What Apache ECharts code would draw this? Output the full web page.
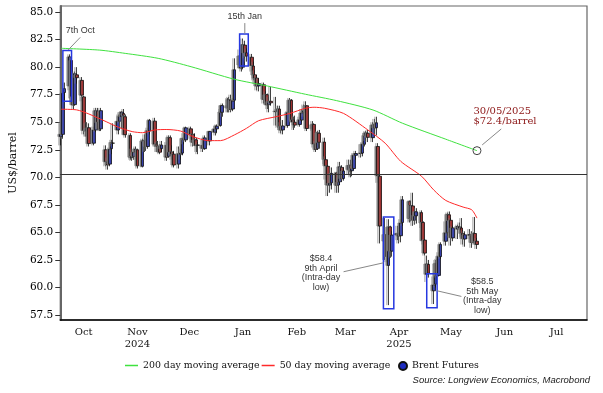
<!DOCTYPE html>
<html><head><meta charset="utf-8">
<script src="https://cdn.jsdelivr.net/npm/echarts@6/dist/echarts.min.js"></script>
<style>html,body{margin:0;padding:0;background:#fff}#c{width:603px;height:393px}</style>
</head><body><div id="c"></div>
<script>
// ---- axis definitions ----
const axisStartUTC = [2024, 9, 2];   // 2 Oct 2024
const axisEndUTC = [2025, 7, 1];     // 1 Aug 2025
const monthNames = ['Jan','Feb','Mar','Apr','May','Jun','Jul','Aug','Sep','Oct','Nov','Dec'];
const yearLabels = {'2024-11': '2024', '2025-04': '2025'};
const yTicks = [57.5, 60, 62.5, 65, 67.5, 70, 72.5, 75, 77.5, 80, 82.5, 85];
const yRange = [57.05, 85.55];
const refLine = 70.3;

// ---- Brent futures, rows: [day, open, close, low, high] ----
const brentOct2024 = [
[2,73.7,73.90,72.9,75.0],[3,73.9,77.62,73.5,78.0],[4,77.7,78.05,77.0,78.6],[7,78.3,80.93,77.9,81.16],
[8,80.6,77.18,76.8,80.9],[9,77.3,76.58,76.2,77.6],[10,76.6,79.40,76.5,79.6],[11,79.3,79.04,78.5,80.0],
[14,78.8,77.46,76.9,79.1],[15,77.3,74.25,73.9,77.4],[16,74.3,74.22,73.7,74.9],[17,74.2,74.45,73.7,75.0],
[18,74.5,73.06,72.8,74.9],[21,73.1,74.29,72.9,74.6],[22,74.3,76.04,74.1,76.3],[23,76.0,74.96,74.5,76.3],
[24,75.0,74.38,74.2,75.6],[25,74.4,76.05,74.2,76.3],[28,72.5,71.42,71.0,72.9],[29,71.4,71.12,70.7,71.8],
[30,71.2,72.55,71.0,72.7],[31,72.6,73.16,72.1,73.4]];
const brentNov2024 = [
[1,73.1,73.10,72.8,74.9],[4,74.3,75.08,73.9,75.7],[5,75.1,75.53,74.9,75.9],[6,75.5,75.92,74.4,76.0],
[7,75.8,75.63,75.0,76.2],[8,75.5,73.87,73.6,75.7],[11,73.8,71.83,71.6,74.0],[12,71.8,71.89,71.5,72.6],
[13,71.9,72.28,71.6,72.6],[14,72.3,72.56,71.6,72.8],[15,72.5,71.04,70.8,72.6],[18,71.0,73.30,70.9,73.5],
[19,73.3,73.31,72.3,73.9],[20,73.3,72.81,72.4,73.5],[21,72.8,74.23,72.6,74.5],[22,74.2,75.17,73.9,75.3],
[25,75.1,73.01,72.8,75.4],[26,73.0,72.81,72.3,73.2],[27,72.8,72.83,72.3,73.3],[28,72.8,72.28,72.1,73.0],
[29,72.6,72.94,72.3,73.3]];
const brentDec2024 = [
[2,72.9,71.83,71.5,73.2],[3,71.9,73.62,71.8,73.8],[4,73.6,72.31,71.9,73.8],[5,72.3,72.09,71.6,72.9],
[6,72.1,71.12,70.9,72.4],[9,71.2,72.14,70.8,72.8],[10,72.1,72.19,71.6,72.6],[11,72.2,73.52,72.0,73.6],
[12,73.5,73.41,73.0,74.0],[13,73.4,74.49,73.2,74.6],[16,74.4,73.91,73.5,74.6],[17,73.9,73.19,72.8,74.0],
[18,73.2,73.39,72.9,74.0],[19,73.4,72.88,72.3,73.6],[20,72.9,72.94,72.1,73.2],[23,72.9,72.63,72.3,73.4],
[24,72.6,73.58,72.5,73.8],[27,73.3,74.17,72.9,74.2],[30,74.1,74.39,73.8,74.7],[31,74.4,74.64,74.0,74.8]];
const brentJan2025 = [
[2,74.7,75.93,74.6,76.2],[3,75.9,76.51,75.5,76.7],[6,76.5,76.30,75.9,77.2],[7,76.3,77.05,75.9,77.3],
[8,77.0,76.16,75.9,77.5],[9,76.2,76.92,76.0,77.2],[10,77.0,79.76,76.9,80.8],[13,80.2,81.01,79.9,81.6],
[14,81.0,79.92,79.6,81.5],[15,80.0,82.03,79.8,82.6],[16,82.0,81.29,80.8,82.4],[17,81.3,81.00,80.5,81.7],
[20,80.9,80.15,79.6,81.2],[21,80.1,79.29,78.8,80.5],[22,79.3,79.00,78.5,79.7],[23,79.0,78.29,77.9,79.3],
[24,78.3,78.50,77.8,79.0],[27,78.4,77.08,76.7,78.6],[28,77.1,77.49,76.9,77.8],[29,77.5,76.58,76.2,77.6],
[30,76.6,76.87,75.9,77.3],[31,76.9,76.76,76.5,78.2]];
const brentFeb2025 = [
[3,76.0,75.96,74.7,77.3],[4,76.0,76.20,74.5,76.5],[5,76.2,74.61,74.3,76.5],[6,74.6,74.29,74.0,75.0],
[7,74.3,74.66,73.9,75.2],[10,74.7,75.87,74.5,76.0],[11,75.9,77.00,75.7,77.2],[12,77.0,75.18,75.0,77.1],
[13,75.2,75.02,74.3,75.5],[14,75.0,74.74,74.5,75.6],[17,74.8,75.22,74.6,75.5],[18,75.2,75.84,75.0,76.2],
[19,75.9,76.04,75.5,76.6],[20,76.0,76.48,75.5,76.9],[21,76.5,74.43,74.2,76.5],[24,74.4,74.78,74.2,75.1],
[25,74.8,73.02,72.7,74.9],[26,73.0,72.53,72.3,73.3],[27,72.6,74.04,72.5,74.2],[28,74.0,73.18,72.6,74.3]];
const brentMar2025 = [
[3,73.2,71.62,71.2,73.6],[4,71.6,71.04,69.8,71.9],[5,71.0,69.30,68.3,71.1],[6,69.3,69.46,68.6,70.3],
[7,69.5,70.36,68.9,70.9],[10,70.4,69.28,68.6,70.5],[11,69.3,69.56,68.6,70.0],[12,69.6,70.95,69.3,71.4],
[13,70.9,69.88,69.6,71.1],[14,69.9,70.58,69.7,70.9],[17,70.7,71.07,70.3,71.6],[18,71.1,70.56,70.0,71.6],
[19,70.6,70.78,70.1,71.2],[20,70.8,72.00,70.7,72.2],[21,72.0,72.16,71.6,72.4],[24,72.2,72.16,71.8,73.0],
[25,72.2,73.02,71.9,73.2],[26,73.0,73.79,72.8,74.0],[27,73.8,74.03,73.3,74.2],[28,74.0,73.63,73.2,74.3],
[31,73.6,74.74,73.2,75.0]];
const brentApr2025 = [
[1,74.8,74.49,74.0,75.3],[2,74.5,74.95,73.8,75.5],[3,72.8,70.14,69.5,73.1],[4,70.1,65.58,64.0,70.3],
[7,64.8,64.21,62.5,66.3],[8,64.8,62.82,62.3,65.5],[9,62.0,65.48,58.40,66.2],[10,65.5,63.33,62.7,65.6],
[11,63.3,64.76,62.8,65.1],[14,64.8,64.88,64.3,65.6],[15,64.9,64.67,64.0,65.0],[16,64.7,65.85,64.1,66.2],
[17,65.9,67.96,65.6,68.3],[21,67.8,66.26,65.9,67.9],[22,66.3,67.44,66.0,67.9],[23,67.4,66.12,65.6,68.6],
[24,66.1,66.55,65.7,66.9],[25,66.5,66.87,65.8,67.2],[28,66.8,65.86,65.4,67.0],[29,65.9,64.25,63.9,66.0],
[30,64.3,63.12,62.9,64.4]];
const brentMay2025 = [
[1,61.2,62.13,60.5,62.9],[2,62.1,61.29,60.9,62.5],[5,59.7,60.23,58.50,61.0],[6,60.3,62.15,60.0,62.5],
[7,62.2,61.12,60.9,62.6],[8,61.1,62.84,61.0,63.2],[9,62.8,63.91,62.6,64.1],[12,64.2,64.96,63.8,66.0],
[13,65.0,66.63,64.7,66.8],[14,66.6,66.09,65.6,66.9],[15,66.1,64.53,63.8,66.3],[16,64.5,65.41,64.2,65.6],
[19,65.3,65.54,64.4,65.7],[20,65.5,65.38,64.9,65.9],[21,65.4,64.91,64.6,66.3],[22,64.9,64.44,63.9,65.2],
[23,64.4,64.78,63.7,65.1],[26,64.8,64.74,64.4,65.3],[27,64.7,64.09,63.6,65.1],[28,64.1,64.90,64.0,65.0],
[29,64.9,64.15,63.9,66.4],[30,64.2,63.90,63.5,64.5]];
const brentMonths = [['2024-10',brentOct2024],['2024-11',brentNov2024],['2024-12',brentDec2024],
  ['2025-01',brentJan2025],['2025-02',brentFeb2025],['2025-03',brentMar2025],['2025-04',brentApr2025],['2025-05',brentMay2025]];

// ---- moving averages ----
const ma200 = [['2024-10-02',81.71],['2024-10-24',81.55],['2024-11-08',81.25],['2024-11-27',80.80],
  ['2024-12-16',80.04],['2025-01-10',78.90],['2025-01-29',78.29],['2025-02-20',77.54],['2025-03-10',76.96],
  ['2025-03-31',76.11],['2025-04-17',74.91],['2025-05-12',73.46],['2025-05-30',72.42]];
const ma50 = [['2024-10-02',76.18],['2024-10-11',76.12],['2024-10-18',75.75],['2024-10-28',75.05],
  ['2024-11-04',74.55],['2024-11-12',74.15],['2024-11-18',74.05],['2024-11-25',74.30],['2024-12-02',74.34],
  ['2024-12-10',74.20],['2024-12-17',73.70],['2024-12-26',73.33],['2025-01-02',73.33],['2025-01-10',73.85],
  ['2025-01-17',74.45],['2025-01-24',75.14],['2025-02-03',75.50],['2025-02-11',75.80],['2025-02-20',76.27],
  ['2025-02-25',76.36],['2025-03-03',76.27],['2025-03-14',75.80],['2025-03-28',74.30],['2025-04-07',73.10],
  ['2025-04-16',71.45],['2025-04-28',70.10],['2025-05-05',68.86],['2025-05-12',67.90],['2025-05-22',67.30],
  ['2025-05-27',67.05],['2025-05-30',66.30]];

// ---- annotations (data space) ----
const boxes = [[['2024-10-03',76.9],['2024-10-08',81.5]],[['2025-01-13',80.1],['2025-01-18',83.0]],
  [['2025-04-06',58.07],['2025-04-12',66.4]],[['2025-05-01',58.16],['2025-05-07',61.25]]];
const notes = [['7th Oct',['2024-10-13',83.3]],['15th Jan',['2025-01-16',84.64]],
  ['$58.4\n9th April\n(Intra-day\nlow)',['2025-03-01',61.33]],['$58.5\n5th May\n(Intra-day\nlow)',['2025-06-02',59.21]]];
const leaders = [[['2024-10-13',82.7],['2024-10-06',81.55]],[['2025-01-16',84.0],['2025-01-16',83.05]],
  [['2025-03-14',61.43],['2025-04-06',62.24]],[['2025-05-07',59.7],['2025-05-21',59.19]],
  [['2025-06-02',72.94],['2025-06-13',74.39]]];
const lastMa200 = ['2025-05-30',72.42];
const priceNote = ['30/05/2025\n$72.4/barrel',['2025-05-28',76.48]];

// ---- build ----
const cats = [];
for (let t = Date.UTC(...axisStartUTC); t <= Date.UTC(...axisEndUTC); t += 86400000) {
  cats.push(new Date(t).toISOString().slice(0,10));
}
const candles = [];
brentMonths.forEach(([m, rows]) => rows.forEach(r =>
  candles.push([m + '-' + String(r[0]).padStart(2,'0'), r[1], r[2], r[3], r[4]])));

const serif = 'DejaVu Serif', sans = 'Liberation Sans';
const legendText = {fontFamily:serif, fontSize:9.4, color:'#111'};
const chart = echarts.init(document.getElementById('c'), null, {renderer:'canvas'});
chart.setOption({
  animation:false,
  backgroundColor:'#fff',
  grid:{left:50, right:16, top:6, bottom:73, show:true, borderColor:'#666', borderWidth:1.2, containLabel:false},
  legend:[
    {left:120, top:356, icon:'rect', itemWidth:13, itemHeight:1.5, itemGap:2, textStyle:legendText,
      data:['200 day moving average','50 day moving average']},
    {left:393, top:356, icon:'circle', itemWidth:8, itemHeight:8, textStyle:legendText,
      data:['Brent Futures']}
  ],
  xAxis:{type:'category', data:cats, boundaryGap:true,
    axisLine:{lineStyle:{color:'#000', width:1.5}},
    axisTick:{interval:(i,v)=>v.slice(8)==='01', length:3, lineStyle:{color:'#333'}},
    axisLabel:{interval:(i,v)=>v.slice(8)==='15',
      formatter:v=>{const m = monthNames[+v.slice(5,7)-1]; const y = yearLabels[v.slice(0,7)]; return y ? m+'\n'+y : m;},
      fontFamily:serif, fontSize:10, color:'#111', margin:6, lineHeight:12},
    splitLine:{show:false}},
  yAxis:{type:'value', min:yRange[0], max:yRange[1],
    axisLine:{show:true, lineStyle:{color:'#666', width:2}},
    axisTick:{show:true, customValues:yTicks, length:5, lineStyle:{color:'#333'}},
    axisLabel:{customValues:yTicks, formatter:v=>v.toFixed(1), fontFamily:serif, fontSize:10.5, color:'#000', margin:7},
    splitLine:{show:false},
    name:'US$/barrel', nameLocation:'middle', nameGap:36, nameRotate:90,
    nameTextStyle:{fontFamily:serif, fontSize:11, color:'#111'}},
  series:[
    {name:'200 day moving average', type:'line', data:ma200, symbol:'none', smooth:0.25,
      lineStyle:{color:'#3fe23f', width:1}, itemStyle:{color:'#3fe23f'}, z:3},
    {name:'50 day moving average', type:'line', data:ma50, symbol:'none', smooth:0.25,
      lineStyle:{color:'#ff2a2a', width:1}, itemStyle:{color:'#ff2a2a'}, z:3},
    {name:'Brent Futures', type:'candlestick', data:candles,
      dimensions:['date','open','close','lowest','highest'],
      encode:{x:'date', y:['open','close','lowest','highest']}, barWidth:3.2, z:2,
      itemStyle:{color:'#1e2cc0', color0:'#b01818', borderColor:'#111', borderColor0:'#111', borderWidth:0.8,
        shadowColor:'rgba(120,120,120,0.9)', shadowOffsetX:-1.6, shadowOffsetY:0, shadowBlur:0},
      markLine:{silent:true, symbol:'none', label:{show:false}, lineStyle:{color:'#333', width:1, type:'solid'},
        data:[{yAxis:refLine}]}}
  ]
});

const px = (p) => chart.convertToPixel({gridIndex:0}, [cats.indexOf(p[0]), p[1]]);
const g = [];
boxes.forEach(([a,b]) => {
  const p1 = px(a), p2 = px(b);
  g.push({type:'rect', z:100, shape:{x:Math.min(p1[0],p2[0]), y:Math.min(p1[1],p2[1]),
    width:Math.abs(p2[0]-p1[0]), height:Math.abs(p2[1]-p1[1])},
    style:{fill:null, stroke:'#2638e0', lineWidth:1.5}});
});
leaders.forEach(([a,b]) => {
  const p1 = px(a), p2 = px(b);
  g.push({type:'line', z:100, shape:{x1:p1[0], y1:p1[1], x2:p2[0], y2:p2[1]}, style:{stroke:'#888', lineWidth:1}});
});
notes.forEach(([t,a]) => {
  const p = px(a);
  g.push({type:'text', z:100, x:p[0], y:p[1], style:{text:t, fontFamily:sans, fontSize:9, fill:'#333',
    align:'center', verticalAlign:'middle', lineHeight:9.5}});
});
{
  const p = px(lastMa200);
  g.push({type:'circle', z:100, shape:{cx:p[0], cy:p[1], r:4}, style:{fill:null, stroke:'#444', lineWidth:1}});
  const q = px(priceNote[1]);
  g.push({type:'text', z:100, x:q[0], y:q[1], style:{text:priceNote[0], fontFamily:serif, fontSize:10,
    fill:'#8b1414', align:'left', verticalAlign:'top', lineHeight:10}});
}
g.push({type:'text', z:100, right:13, top:375, style:{text:'Source: Longview Economics, Macrobond',
  fontFamily:sans, fontStyle:'italic', fontSize:9.5, fill:'#222'}});
chart.setOption({graphic:g});
</script>
</body></html>
